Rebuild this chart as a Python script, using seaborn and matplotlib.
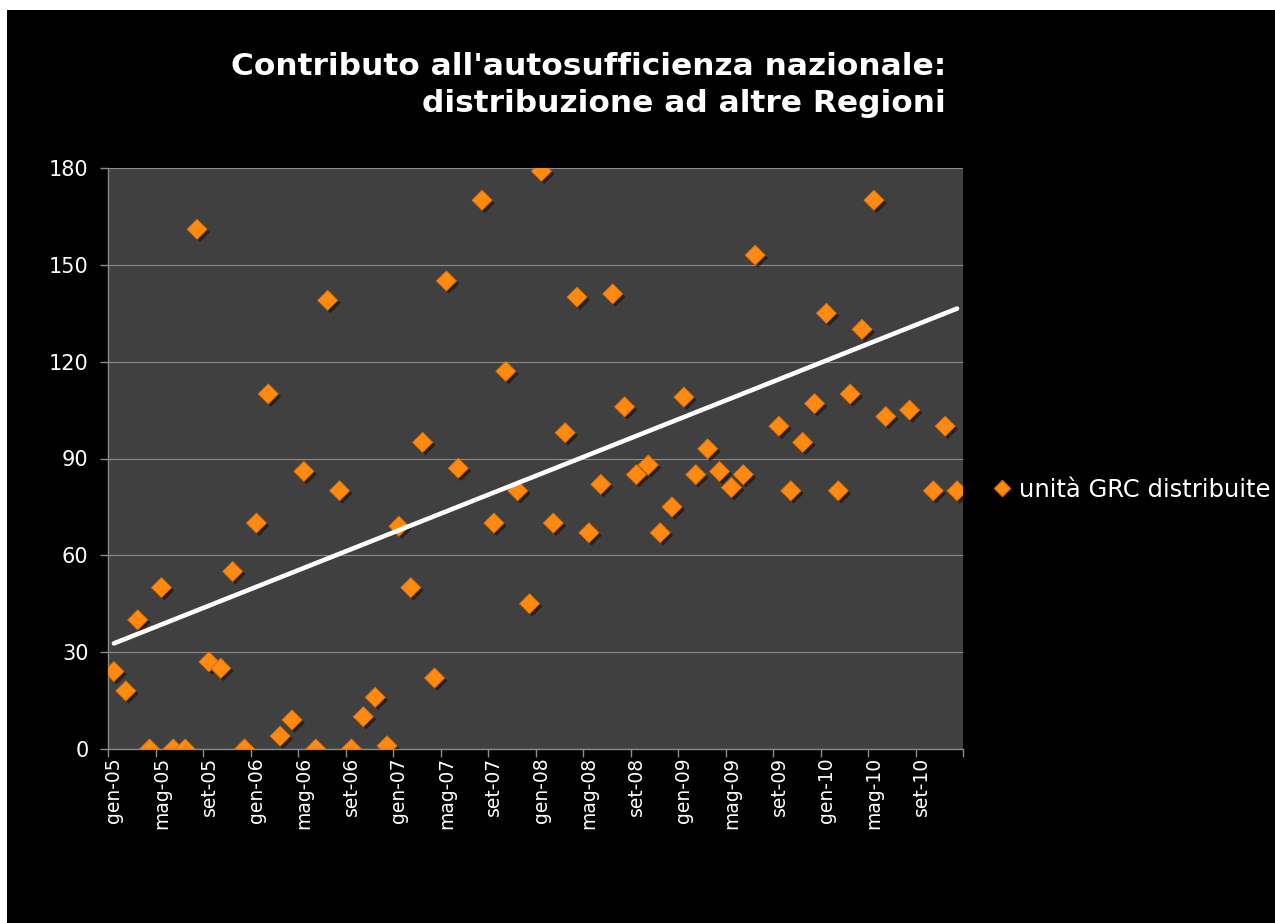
import numpy as np
import pandas as pd
import matplotlib
matplotlib.use("Agg")
import matplotlib.pyplot as plt
import matplotlib.patheffects as pe
from matplotlib.patches import Rectangle
from matplotlib.lines import Line2D
import seaborn as sns

# ---------------- data ----------------
month_abbr = ["gen", "feb", "mar", "apr", "mag", "giu",
              "lug", "ago", "set", "ott", "nov", "dic"]
years = ["05", "06", "07", "08", "09", "10"]
months = [f"{m}-{y}" for y in years for m in month_abbr]

series_name = "unità GRC distribuite"
# monthly units; the months lug-07, ago-09, lug-10 and set-10 lie above the
# 180 axis maximum and are clipped in the original (estimated from the trend)
units = [24, 18, 40, 0, 50, 0, 0, 161, 27, 25,
         55, 0, 70, 110, 4, 9, 86, 0, 139, 80,
         0, 10, 16, 1, 69, 50, 95, 22, 145, 87,
         250, 170, 70, 117, 80, 45, 179, 70, 98, 140,
         67, 82, 141, 106, 85, 88, 67, 75, 109, 85,
         93, 86, 81, 85, 153, 200, 100, 80, 95, 107,
         135, 80, 110, 130, 170, 103, 195, 105, 205, 80,
         100, 80]

y_ticks = [0, 30, 60, 90, 120, 150, 180]
title_1 = "Contributo all'autosufficienza nazionale:"
title_2 = "distribuzione ad altre Regioni"

# ---------------- style ----------------
W, H = 1275, 923
orange = "#FF8A12"
orange_edge = "#D96C00"
grey = "#8a8a8a"

df = pd.DataFrame({"idx": np.arange(len(months)), "mese": months, "unita": units})

fig = plt.figure(figsize=(W / 100, H / 100), dpi=100, facecolor="white")
fig.patches.append(Rectangle((7 / W, 0), 1, 1 - 10 / H, transform=fig.transFigure,
                             facecolor="black", edgecolor="none", zorder=-10))

ax = fig.add_axes([108 / W, 1 - 749 / H, (963 - 108) / W, (749 - 168) / H])
ax.set_facecolor("#404040")

sns.scatterplot(data=df, x="idx", y="unita", marker="D", s=105, color=orange,
                edgecolor=orange_edge, linewidth=0.6, ax=ax, zorder=3, legend=False)
ax.collections[0].set_path_effects([
    pe.SimplePatchShadow(offset=(2, -2), shadow_rgbFace="black", alpha=0.45),
    pe.Normal()])

sns.regplot(data=df, x="idx", y="unita", scatter=False, ci=None, ax=ax,
            line_kws=dict(color="white", lw=3.3, solid_capstyle="round", zorder=4))

ax.set_xlim(-0.5, len(months) - 0.5)
ax.set_ylim(0, 180)
ax.set_yticks(y_ticks)
ax.set_xticks(np.arange(0, len(months), 4))
ax.set_xticklabels(months[::4], rotation=90)
ax.set_xticks(np.arange(-0.5, len(months), 4), minor=True)
ax.set_xlabel("")
ax.set_ylabel("")

ax.tick_params(axis="x", which="major", length=0, pad=6, labelcolor="white", labelsize=13.5)
ax.tick_params(axis="x", which="minor", length=6, width=1, color=grey)
ax.tick_params(axis="y", length=6, width=1, color=grey, pad=8,
               labelcolor="white", labelsize=15)

ax.yaxis.grid(True, color=grey, lw=0.8)
ax.xaxis.grid(False)
ax.set_axisbelow(True)
for s in ["top", "right"]:
    ax.spines[s].set_visible(False)
for s in ["left", "bottom"]:
    ax.spines[s].set_color(grey)
    ax.spines[s].set_linewidth(1)

fig.text(946 / W, 1 - 75 / H, title_1, ha="right", va="baseline",
         color="white", fontsize=22.5, fontweight="bold")
fig.text(946 / W, 1 - 112 / H, title_2, ha="right", va="baseline",
         color="white", fontsize=22.5, fontweight="bold")

handle = Line2D([], [], marker="D", ls="", markersize=8, markerfacecolor=orange,
                markeredgecolor=orange_edge)
fig.legend(handles=[handle], labels=[series_name], loc="center left",
           bbox_to_anchor=(992 / W, 1 - 490 / H), frameon=False, fontsize=17.5,
           labelcolor="white", handlelength=0.8, handletextpad=0.3,
           borderaxespad=0, borderpad=0)

fig.savefig("out.png", dpi=100, facecolor=fig.get_facecolor())
